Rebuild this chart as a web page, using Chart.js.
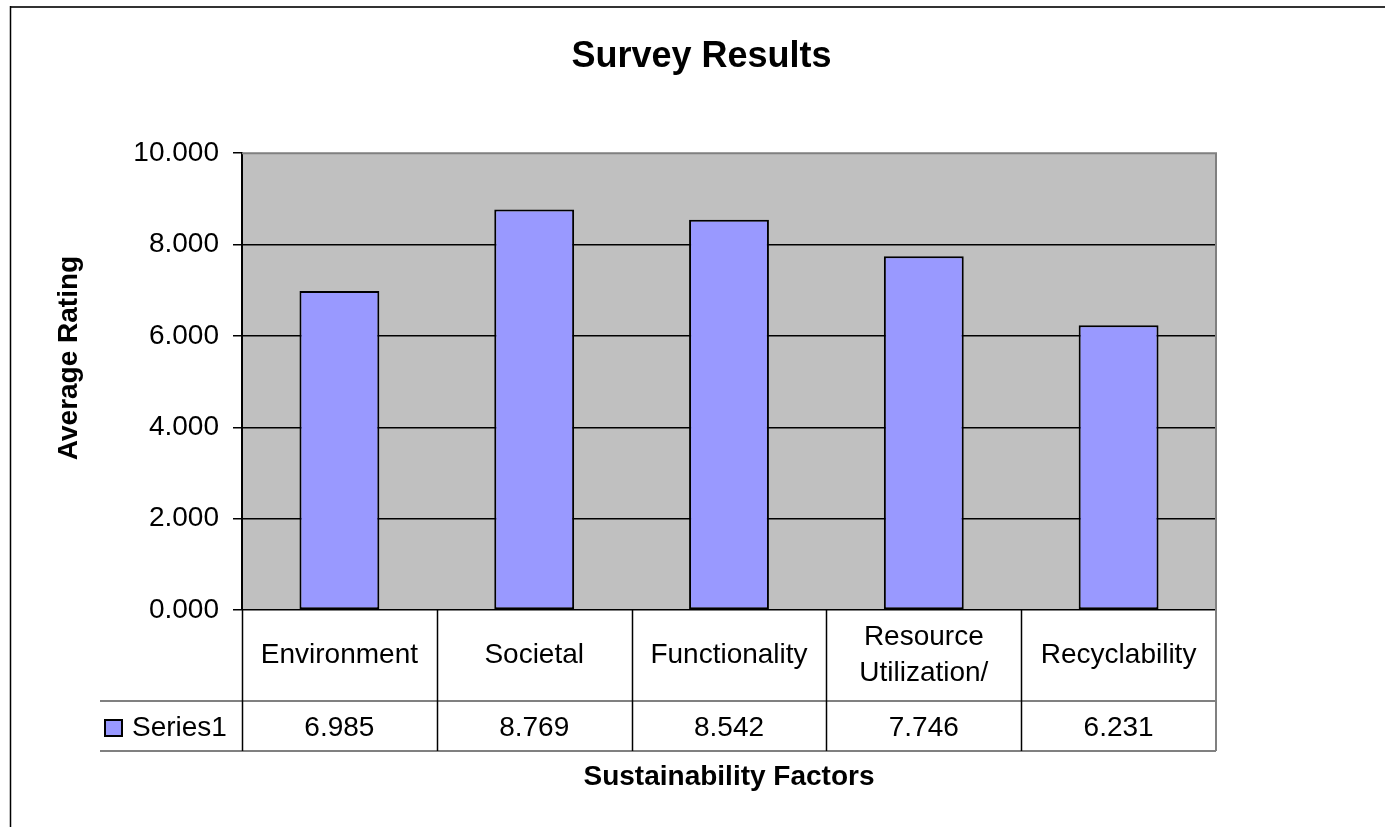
<!DOCTYPE html>
<html>
<head>
<meta charset="utf-8">
<title>Survey Results</title>
<script src="https://cdn.jsdelivr.net/npm/chart.js@4/dist/chart.umd.min.js"></script>
<style>
  html, body { margin: 0; padding: 0; background: #ffffff; overflow: hidden; }
  #wrap { width: 1385px; height: 827px; position: relative; }
</style>
</head>
<body>
<div id="wrap"><canvas id="chart" width="1385" height="827"></canvas></div>
<script>
// ---- data ----
const categories = ['Environment', 'Societal', 'Functionality', ['Resource', 'Utilization/'], 'Recyclability'];
const seriesName = 'Series1';
const averageRatings = [6.985, 8.769, 8.542, 7.746, 6.231];
const yTickValues = [0, 2, 4, 6, 8, 10];
const chartTitle = 'Survey Results';
const yAxisTitle = 'Average Rating';
const xAxisTitle = 'Sustainability Factors';

// ---- styles ----
const FONT = "'Liberation Sans', Arial, Helvetica, sans-serif";
const BAR_FILL = '#9999FF';
const PLOT_BG = '#C0C0C0';
const FRAME_GRAY = '#808080';
const fmt = v => Number(v).toFixed(3);

// Plot background, data table under the axis, y-axis title and outer frame
const tablePlugin = {
  id: 'excelTable',
  beforeDraw(chart) {
    const { ctx, chartArea: a } = chart;
    ctx.save();
    ctx.fillStyle = '#ffffff';
    ctx.fillRect(0, 0, chart.width, chart.height);
    ctx.fillStyle = PLOT_BG;
    ctx.fillRect(a.left, a.top, a.right - a.left, a.bottom - a.top);
    ctx.restore();
  },
  afterDraw(chart) {
    const { ctx, chartArea: a, scales } = chart;
    const x = scales.x;
    const catRowH = 91, valRowH = 50;
    const legendCellW = 142;
    const yCatBottom = a.bottom + catRowH;
    const yValBottom = yCatBottom + valRowH;
    const n = categories.length;
    const half = (a.right - a.left) / n / 2;

    ctx.save();
    // plot frame top/right in gray
    ctx.strokeStyle = FRAME_GRAY;
    ctx.lineWidth = 2;
    ctx.beginPath();
    ctx.moveTo(a.left, a.top);
    ctx.lineTo(a.right, a.top);
    ctx.lineTo(a.right, yValBottom);
    ctx.stroke();

    // horizontal table rules
    ctx.lineWidth = 2;
    ctx.beginPath();
    ctx.moveTo(a.left - legendCellW, yCatBottom);
    ctx.lineTo(a.right, yCatBottom);
    ctx.moveTo(a.left - legendCellW, yValBottom);
    ctx.lineTo(a.right, yValBottom);
    ctx.stroke();

    // vertical cell separators
    ctx.strokeStyle = '#000000';
    ctx.lineWidth = 1.5;
    ctx.beginPath();
    for (let i = 0; i < n; i++) {
      const left = x.getPixelForValue(i) - half;
      ctx.moveTo(Math.round(left) + 0.5, a.bottom);
      ctx.lineTo(Math.round(left) + 0.5, yValBottom);
    }
    ctx.stroke();

    // category labels and values
    ctx.fillStyle = '#000000';
    ctx.font = '28px ' + FONT;
    ctx.textAlign = 'center';
    ctx.textBaseline = 'middle';
    const catMid = a.bottom + catRowH / 2;
    const valMid = yCatBottom + valRowH / 2 + 2;
    for (let i = 0; i < n; i++) {
      const cx = x.getPixelForValue(i);
      const lab = categories[i];
      const lines = Array.isArray(lab) ? lab : [lab];
      const lh = 36;
      lines.forEach((t, k) => {
        ctx.fillText(t, cx, catMid + (k - (lines.length - 1) / 2) * lh);
      });
      ctx.fillText(fmt(averageRatings[i]), cx, valMid);
    }

    // legend key + series name
    const keyX = a.left - legendCellW + 5;
    ctx.fillStyle = BAR_FILL;
    ctx.fillRect(keyX, valMid - 8, 17, 16);
    ctx.strokeStyle = '#000000';
    ctx.lineWidth = 2;
    ctx.strokeRect(keyX, valMid - 8, 17, 16);
    ctx.fillStyle = '#000000';
    ctx.textAlign = 'left';
    ctx.fillText(seriesName, keyX + 27, valMid);

    // y-axis title
    ctx.save();
    ctx.translate(69, 358);
    ctx.rotate(-Math.PI / 2);
    ctx.font = 'bold 28px ' + FONT;
    ctx.textAlign = 'center';
    ctx.textBaseline = 'middle';
    ctx.fillText(yAxisTitle, 0, 0);
    ctx.restore();

    // outer chart frame
    ctx.strokeStyle = '#333333';
    ctx.lineWidth = 2;
    ctx.beginPath();
    ctx.moveTo(10, 7);
    ctx.lineTo(chart.width, 7);
    ctx.stroke();
    ctx.strokeStyle = '#000000';
    ctx.lineWidth = 1.5;
    ctx.beginPath();
    ctx.moveTo(10.5, 6);
    ctx.lineTo(10.5, chart.height);
    ctx.stroke();
    ctx.restore();
  }
};

new Chart(document.getElementById('chart'), {
  type: 'bar',
  data: {
    labels: categories,
    datasets: [{
      label: seriesName,
      data: averageRatings,
      backgroundColor: BAR_FILL,
      borderColor: '#000000',
      borderWidth: 2,
      borderSkipped: false,
      barPercentage: 0.41,
      categoryPercentage: 1
    }]
  },
  options: {
    responsive: false,
    animation: false,
    devicePixelRatio: 1,
    layout: { padding: { left: 18, right: 0, top: 0, bottom: 0 } },
    plugins: {
      legend: { display: false },
      tooltip: { enabled: false },
      title: {
        display: true,
        text: chartTitle,
        color: '#000000',
        font: { family: FONT, size: 36, weight: 'bold', lineHeight: 1.2 },
        padding: { top: 35, bottom: 75 }
      }
    },
    scales: {
      x: {
        type: 'category',
        ticks: { display: false },
        grid: { display: false },
        border: { display: false },
        title: {
          display: true,
          text: xAxisTitle,
          color: '#000000',
          font: { family: FONT, size: 28, weight: 'bold', lineHeight: 1.2 },
          padding: { top: 0, bottom: 33 }
        },
        afterFit(s) { s.height = 217; }
      },
      y: {
        type: 'linear',
        position: 'left',
        min: 0,
        max: 10,
        afterBuildTicks(s) { s.ticks = yTickValues.map(v => ({ value: v })); },
        ticks: {
          color: '#000000',
          padding: 14,
          font: { family: FONT, size: 28 },
          callback: v => fmt(v)
        },
        grid: {
          color: ctx => (ctx.tick && ctx.tick.value === 10) ? 'rgba(0,0,0,0)' : '#000000',
          tickColor: '#000000',
          lineWidth: 1.5,
          tickLength: 9
        },
        border: { display: true, color: '#000000', width: 2 },
        afterFit(s) { s.width = 224; }
      },
      yRight: {
        type: 'linear',
        position: 'right',
        display: true,
        ticks: { display: false },
        grid: { display: false },
        border: { display: false },
        afterFit(s) { s.width = 169; }
      }
    }
  },
  plugins: [tablePlugin]
});
</script>
</body>
</html>
